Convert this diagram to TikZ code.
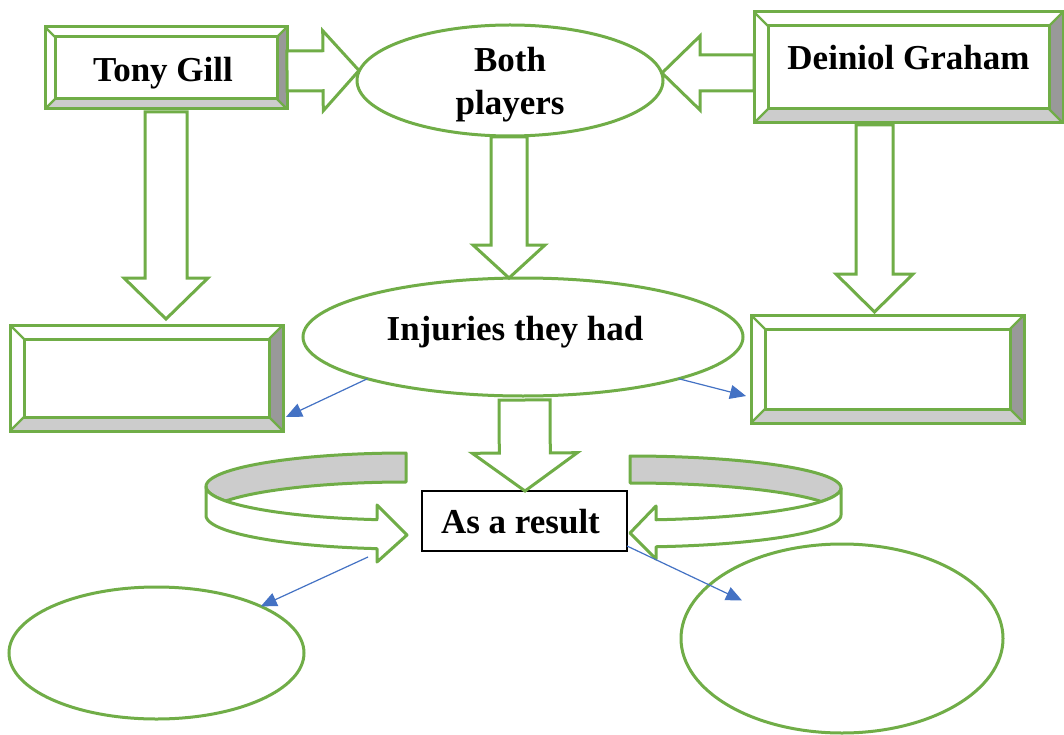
\documentclass[tikz,border=0pt]{standalone}
\usepackage{fontspec}
\setmainfont{Liberation Serif}
\usetikzlibrary{arrows.meta,positioning,calc,shapes.geometric}

\definecolor{leaf}{HTML}{70AD47}
\definecolor{bevlight}{HTML}{CCCCCC}
\definecolor{bevdark}{HTML}{999999}
\definecolor{arrowblue}{HTML}{4472C4}

\tikzset{
  bevelbox/.style={draw=leaf,line width=3pt,fill=white,rectangle,inner sep=0pt,outer sep=0pt},
  oval/.style={draw=leaf,line width=3pt,fill=white,ellipse,inner sep=0pt,outer sep=0pt},
  blockarr/.style={draw=leaf,line width=3pt,fill=white,line join=miter},
  ring/.style={draw=leaf,line width=3pt,line join=round},
  pointer/.style={draw=arrowblue,line width=1.2pt,-{Triangle[length=16pt,width=14pt,fill=arrowblue]}},
  txt/.style={font=\fontsize{35}{43}\selectfont\bfseries,inner sep=0pt}
}

% start, tip, shaft half width, head half width, head length
\newcommand\blockarrow[5]{%
  \path (#1) coordinate (fa-s) (#2) coordinate (fa-t);
  \path ($(fa-t)!#5!(fa-s)$) coordinate (fa-h);
  \draw[blockarr] ($(fa-s)!#3!90:(fa-t)$) -- ($(fa-h)!#3!90:(fa-t)$) -- ($(fa-h)!#4!90:(fa-t)$) -- (fa-t)
    -- ($(fa-h)!#4!-90:(fa-t)$) -- ($(fa-h)!#3!-90:(fa-t)$) -- ($(fa-s)!#3!-90:(fa-t)$) -- cycle;}

\begin{document}
\begin{tikzpicture}[x=1pt,y=-1pt]
\path[use as bounding box,fill=white] (0,0) rectangle (1064,735);

% boxes with bevels
\node[bevelbox,minimum width=242pt,minimum height=82pt] (tony) at (166,68) {};
\node[bevelbox,minimum width=309pt,minimum height=111pt] (deiniol) at (908.5,67.5) {};
\node[bevelbox,minimum width=273pt,minimum height=106pt] (leftbox) at (146.5,378) {};
\node[bevelbox,minimum width=273pt,minimum height=108pt] (rightbox) at (887.5,369) {};
\foreach \n/\i in {tony/10,deiniol/14,leftbox/14,rightbox/14}{
  \fill[bevlight] (\n.south west) -- (\n.south east) -- ($(\n.south east)+(-\i,-\i)$) -- ($(\n.south west)+(\i,-\i)$) -- cycle;
  \fill[bevdark] (\n.north east) -- (\n.south east) -- ($(\n.south east)+(-\i,-\i)$) -- ($(\n.north east)+(-\i,\i)$) -- cycle;
  \draw[leaf,line width=3pt] ($(\n.north west)+(\i,\i)$) rectangle ($(\n.south east)+(-\i,-\i)$);
  \draw[leaf,line width=2.2pt] (\n.north west) -- ++(\i,\i) (\n.north east) -- ++(-\i,\i)
    (\n.south west) -- ++(\i,-\i) (\n.south east) -- ++(-\i,-\i);
  \draw[leaf,line width=3pt] (\n.north west) rectangle (\n.south east);
}

% ovals
\node[oval,minimum width=306pt,minimum height=111pt] (both) at (510,80.5) {};
\node[oval,minimum width=440pt,minimum height=118pt] (inj) at (523,337) {};
\node[oval,minimum width=295pt,minimum height=132pt] (oval1) at (156.5,653) {};
\node[oval,minimum width=322pt,minimum height=189pt] (oval2) at (842,638.5) {};
\node[draw=black,line width=2pt,fill=white,inner sep=0pt,outer sep=0pt,minimum width=205pt,minimum height=60pt] (result) at (524.5,521) {};

% texts
\node[txt,anchor=base] (tony-t) at ($(tony.center)+(-3,14)$) {Tony Gill};
\node[txt,anchor=base] (deiniol-t) at ($(deiniol.center)+(0,2)$) {Deiniol Graham};
\node[txt,align=center,anchor=base] (both-t) at ($(both.center)+(0,34.5)$) {Both\\players};
\node[txt,anchor=base] (inj-t) at ($(inj.center)+(-8,3)$) {Injuries they had};
\node[txt,anchor=base] (result-t) at ($(result.center)+(-4,12)$) {As a result};

% block arrows
\blockarrow{$(tony.east)+(0,3)$}{$(both.west)+(2,-10)$}{20pt}{40pt}{36pt}
\blockarrow{$(deiniol.west)+(0,5.5)$}{$(both.east)+(-1,-7.5)$}{18pt}{37pt}{38pt}
\blockarrow{$(tony.south)+(0,3)$}{$(tony.south |- leftbox.north)+(0,-6)$}{21pt}{42pt}{41pt}
\blockarrow{$(both.south)+(-1,1)$}{$(both.south |- inj.north)+(-1,0)$}{18pt}{36pt}{33pt}
\blockarrow{$(deiniol.south)+(-34,2)$}{$(deiniol.south |- rightbox.north)+(-34,-3)$}{18.5pt}{38.5pt}{38pt}
\blockarrow{$(inj.south)+(1.5,4)$}{$(inj.south |- result.north)+(2,0)$}{25.5pt}{52.5pt}{38pt}

% turning arrows round the result box
\filldraw[ring,fill=bevlight]
  plot[domain=270:154.35,samples=50,variable=\t] ({406+200*cos(\t)},{486.5+33.5*sin(\t)})
  -- plot[domain=205.65:270,samples=30,variable=\t] ({406+200*cos(\t)},{515.5+33.5*sin(\t)}) -- cycle;
\filldraw[ring,fill=white]
  plot[domain=180:98.34,samples=50,variable=\t] ({406+200*cos(\t)},{486.5+33.5*sin(\t)})
  -- (377,505) -- (407,535) -- (377,562)
  -- plot[domain=98.34:180,samples=50,variable=\t] ({406+200*cos(\t)},{515.5+33.5*sin(\t)}) -- cycle;
\filldraw[ring,fill=bevlight]
  plot[domain=-90:24.95,samples=50,variable=\t] ({630+211*cos(\t)},{488+32*sin(\t)})
  -- plot[domain=-24.95:-90,samples=30,variable=\t] ({630+211*cos(\t)},{515+32*sin(\t)}) -- cycle;
\filldraw[ring,fill=white]
  plot[domain=0:82.92,samples=50,variable=\t] ({630+211*cos(\t)},{488+32*sin(\t)})
  -- (656,506) -- (630,533) -- (656,559)
  -- plot[domain=82.92:0,samples=50,variable=\t] ({630+211*cos(\t)},{515+32*sin(\t)}) -- cycle;

% thin pointers
\draw[pointer] (inj.south west) -- ($(leftbox.east)+(3,39)$);
\draw[pointer] (inj.south east) -- ($(rightbox.west)+(-5,27)$);
\draw[pointer] ($(result.south west)+(-54,6)$) -- (oval1.north east);
\draw[pointer] ($(result.east)+(0,25)$) -- ($(oval2.center)+(-100,-38)$);
\end{tikzpicture}
\end{document}
